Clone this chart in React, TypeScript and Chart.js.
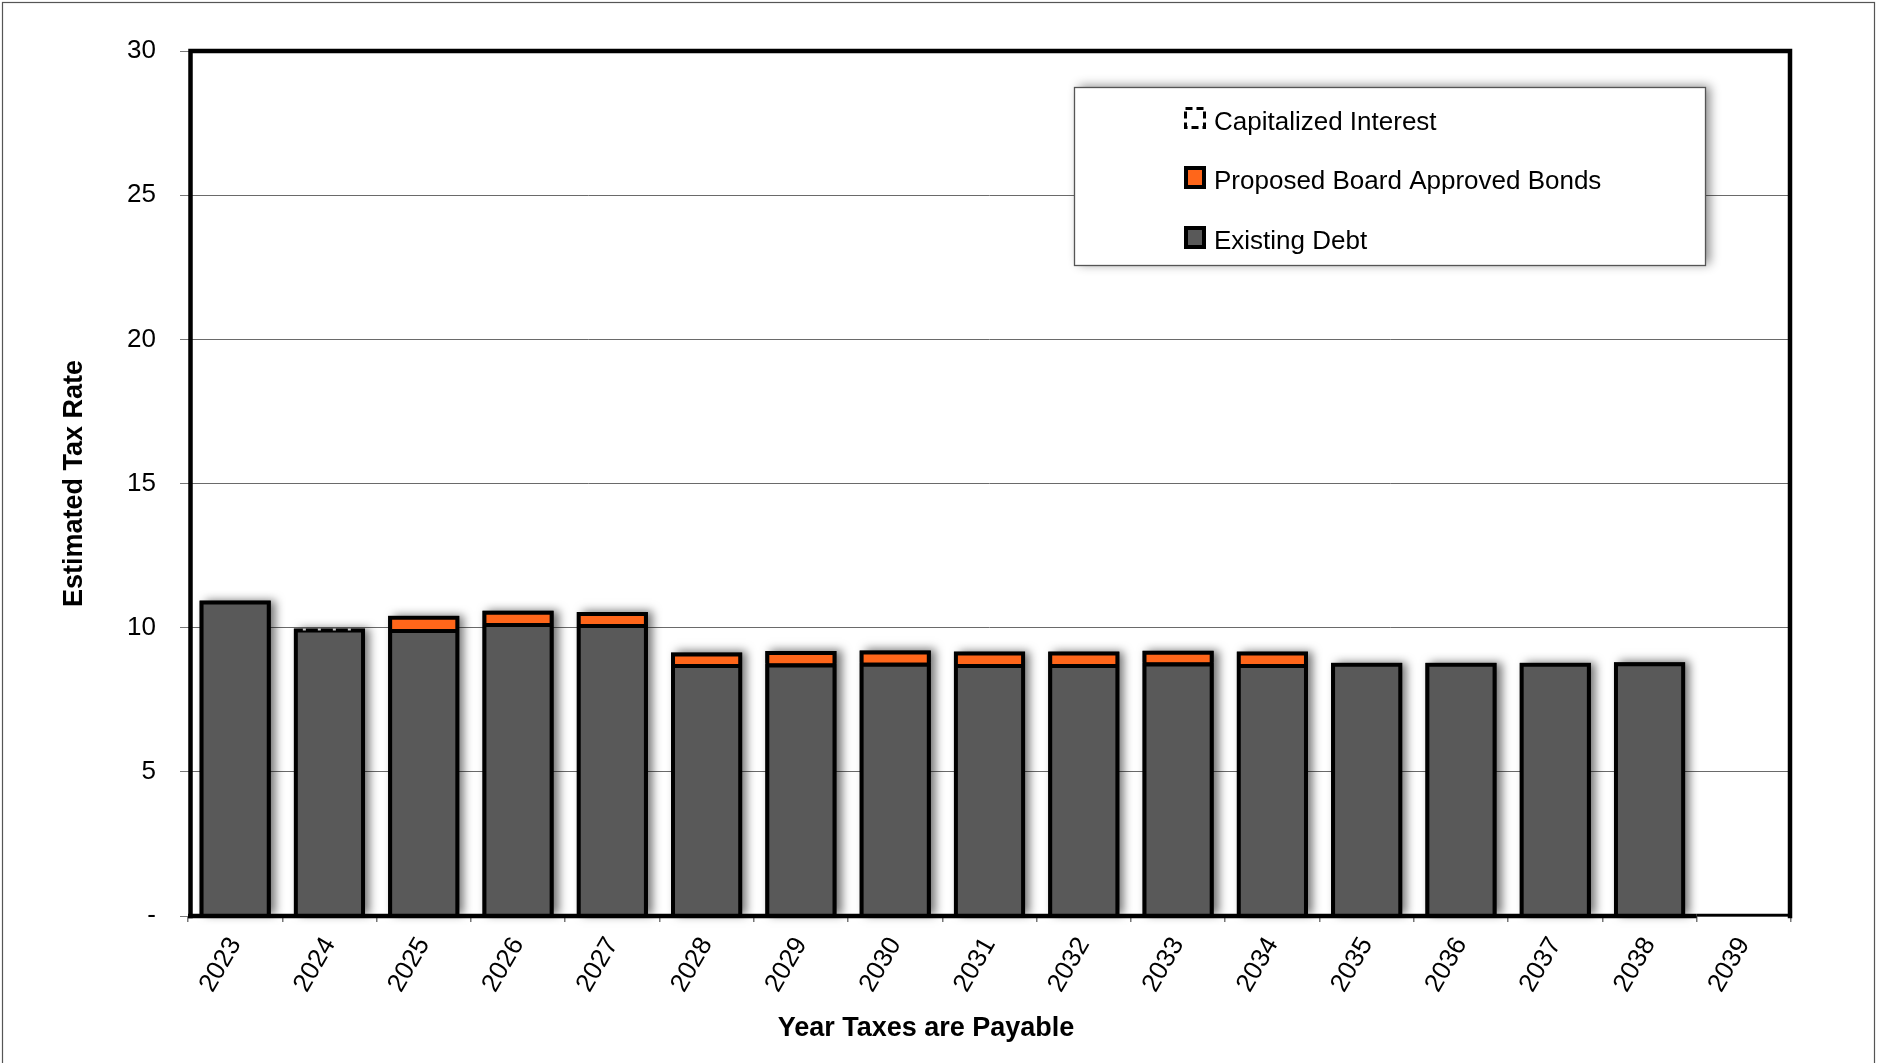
import React, { useEffect, useRef } from 'react';
import { Chart, registerables } from 'chart.js';

Chart.register(...registerables);

const FONT = "'Liberation Sans', Arial, Helvetica, sans-serif";

const years = ['2023', '2024', '2025', '2026', '2027', '2028', '2029', '2030', '2031', '2032', '2033', '2034', '2035', '2036', '2037', '2038', '2039'];
const existingDebt = [10.94, 9.97, 9.95, 10.16, 10.13, 8.74, 8.76, 8.78, 8.74, 8.74, 8.79, 8.74, 8.78, 8.78, 8.78, 8.8, null];
const proposedBonds = [null, null, 0.46, 0.43, 0.41, 0.4, 0.43, 0.43, 0.43, 0.43, 0.41, 0.43, null, null, null, null, null];
const capitalizedInterest = [null, 0.02, null, null, null, null, null, null, null, null, null, null, null, null, null, null, null];
const yTicks = [0, 5, 10, 15, 20, 25, 30];

const legendItems = ['Capitalized Interest', 'Proposed Board Approved Bonds', 'Existing Debt'];

const GRAY = '#595959';
const ORANGE = '#FF661A';

const shadowPlugin = {
  id: 'barShadow',
  beforeDatasetsDraw(chart: any) {
    const { ctx } = chart;
    const m0 = chart.getDatasetMeta(0);
    const m1 = chart.getDatasetMeta(1);
    ctx.save();
    ctx.shadowColor = 'rgba(0,0,0,0.55)';
    ctx.shadowBlur = 9;
    ctx.shadowOffsetX = 5;
    ctx.shadowOffsetY = -1;
    ctx.fillStyle = '#000';
    years.forEach((_, i) => {
      const els: any[] = [];
      if (existingDebt[i] != null) els.push(m0.data[i]);
      if (proposedBonds[i] != null) els.push(m1.data[i]);
      if (!els.length) return;
      const p = els.map((e) => e.getProps(['x', 'y', 'base', 'width'], true));
      const top = Math.min(...p.map((q) => q.y));
      const base = Math.max(...p.map((q) => q.base));
      ctx.fillRect(p[0].x - p[0].width / 2, top, p[0].width, base - top);
    });
    ctx.restore();
  },
};

const framePlugin = {
  id: 'frame',
  afterDatasetsDraw(chart: any) {
    const { ctx, chartArea } = chart;
    const { left, right, top, bottom } = chartArea;
    const m0 = chart.getDatasetMeta(0);
    // dotted capitalized-interest edge
    ctx.save();
    capitalizedInterest.forEach((v, i) => {
      if (v == null) return;
      const el = m0.data[i].getProps(['x', 'y', 'width'], true);
      ctx.strokeStyle = '#c8c8c8';
      ctx.lineWidth = 2;
      ctx.setLineDash([3, 12]);
      ctx.beginPath();
      ctx.moveTo(el.x - el.width / 2 + 9, el.y + 1);
      ctx.lineTo(el.x + el.width / 2 - 4, el.y + 1);
      ctx.stroke();
    });
    ctx.setLineDash([]);
    // plot border
    ctx.strokeStyle = '#000';
    ctx.lineWidth = 4.5;
    ctx.lineCap = 'square';
    ctx.beginPath();
    ctx.moveTo(left + 2.5, bottom);
    ctx.lineTo(left + 2.5, top);
    ctx.lineTo(right - 1, top);
    ctx.lineTo(right - 1, bottom);
    ctx.stroke();
    const xs = chart.scales.x;
    const split = (xs.getPixelForValue(15) + xs.getPixelForValue(16)) / 2;
    ctx.beginPath();
    ctx.lineCap = 'butt';
    ctx.moveTo(left, bottom);
    ctx.lineTo(split, bottom);
    ctx.stroke();
    ctx.lineWidth = 2.5;
    ctx.beginPath();
    ctx.moveTo(split, bottom - 1);
    ctx.lineTo(right, bottom - 1);
    ctx.stroke();
    ctx.restore();
  },
  afterDraw(chart: any) {
    const { ctx } = chart;
    ctx.save();
    // outer border
    ctx.strokeStyle = '#555';
    ctx.lineWidth = 1.2;
    ctx.strokeRect(2.5, 2.5, chart.width - 5, chart.height + 20);

    // x title
    ctx.fillStyle = '#000';
    ctx.font = `bold 27px ${FONT}`;
    ctx.textAlign = 'center';
    ctx.textBaseline = 'middle';
    ctx.fillText('Year Taxes are Payable', 926, 1029);

    // legend box
    const bx = 1074, by = 87, bw = 631, bh = 178;
    ctx.save();
    ctx.shadowColor = 'rgba(0,0,0,0.45)';
    ctx.shadowBlur = 10;
    ctx.shadowOffsetX = 5;
    ctx.shadowOffsetY = -1;
    ctx.fillStyle = '#fff';
    ctx.fillRect(bx, by, bw, bh);
    ctx.restore();
    ctx.strokeStyle = '#555';
    ctx.lineWidth = 1.3;
    ctx.strokeRect(bx + 0.5, by + 0.5, bw, bh);

    const sx = 1184, sw = 22;
    const rows = [118, 177, 237];
    const textY = [123, 182, 242];
    // capitalized interest swatch: dashed outline
    ctx.strokeStyle = '#000';
    ctx.lineWidth = 3;
    ctx.setLineDash([7, 4]);
    ctx.strokeRect(sx + 1.5, rows[0] - sw / 2 + 1.5, sw - 3, sw - 3);
    ctx.setLineDash([]);
    // proposed swatch
    ctx.fillStyle = '#000';
    ctx.fillRect(sx, rows[1] - sw / 2, sw, sw + 1);
    ctx.fillStyle = ORANGE;
    ctx.fillRect(sx + 4, rows[1] - sw / 2 + 4, sw - 8, sw - 7);
    // existing swatch
    ctx.fillStyle = '#000';
    ctx.fillRect(sx, rows[2] - sw / 2, sw, sw + 1);
    ctx.fillStyle = GRAY;
    ctx.fillRect(sx + 4, rows[2] - sw / 2 + 4, sw - 8, sw - 7);

    ctx.fillStyle = '#000';
    ctx.font = `26px ${FONT}`;
    ctx.textAlign = 'left';
    ctx.textBaseline = 'middle';
    legendItems.forEach((t, i) => ctx.fillText(t, 1214, textY[i]));
    ctx.restore();
  },
};

export default function App() {
  const ref = useRef<HTMLCanvasElement | null>(null);

  useEffect(() => {
    if (!ref.current) return;
    const chart = new Chart(ref.current, {
      type: 'bar',
      data: {
        labels: years,
        datasets: [
          {
            label: 'Existing Debt',
            data: existingDebt,
            backgroundColor: GRAY,
            borderColor: '#000',
            borderWidth: 4,
            borderSkipped: 'start',
          },
          {
            label: 'Proposed Board Approved Bonds',
            data: proposedBonds,
            backgroundColor: ORANGE,
            borderColor: '#000',
            borderWidth: 4,
            borderSkipped: 'start',
          },
          {
            label: 'Capitalized Interest',
            data: capitalizedInterest,
            backgroundColor: 'rgba(0,0,0,0)',
            borderWidth: 0,
          },
        ],
      },
      options: {
        responsive: false,
        animation: false,
        maintainAspectRatio: false,
        datasets: { bar: { categoryPercentage: 1, barPercentage: 0.755 } },
        layout: { padding: { top: 51, right: 86, left: 0, bottom: 0 } },
        plugins: { legend: { display: false }, tooltip: { enabled: false }, title: { display: false } },
        scales: {
          x: {
            stacked: true,
            offset: true,
            border: { display: false },
            grid: { offset: true, drawOnChartArea: false, drawTicks: true, tickLength: 6, tickColor: '#777', lineWidth: 1.5 },
            ticks: {
              color: '#000',
              font: { family: FONT, size: 26 },
              minRotation: 60,
              maxRotation: 60,
              autoSkip: false,
              padding: 10,
            },
            afterFit: (s: any) => {
              s.height = 147;
            },
          },
          y: {
            stacked: true,
            min: 0,
            max: 30,
            border: { display: false },
            afterBuildTicks: (s: any) => {
              s.ticks = yTicks.map((v) => ({ value: v }));
            },
            grid: { color: '#6a6a6a', lineWidth: 1, tickLength: 8, tickColor: '#777' },
            ticks: {
              color: '#000',
              font: { family: FONT, size: 26 },
              padding: 24,
              callback: (v: any) => (Number(v) === 0 ? '-' : String(v)),
            },
            title: {
              display: true,
              text: 'Estimated Tax Rate',
              color: '#000',
              font: { family: FONT, size: 27, weight: 'bold' },
              padding: { top: 58, bottom: 0 },
            },
            afterFit: (s: any) => {
              s.width = 188;
            },
          },
        },
      },
      plugins: [shadowPlugin, framePlugin],
    });
    return () => chart.destroy();
  }, []);

  return (
    <div style={{ position: 'fixed', left: 0, top: 0, width: 1877, height: 1063, background: '#fff' }}>
      <canvas ref={ref} width={1877} height={1063} style={{ width: 1877, height: 1063, display: 'block' }} />
    </div>
  );
}
